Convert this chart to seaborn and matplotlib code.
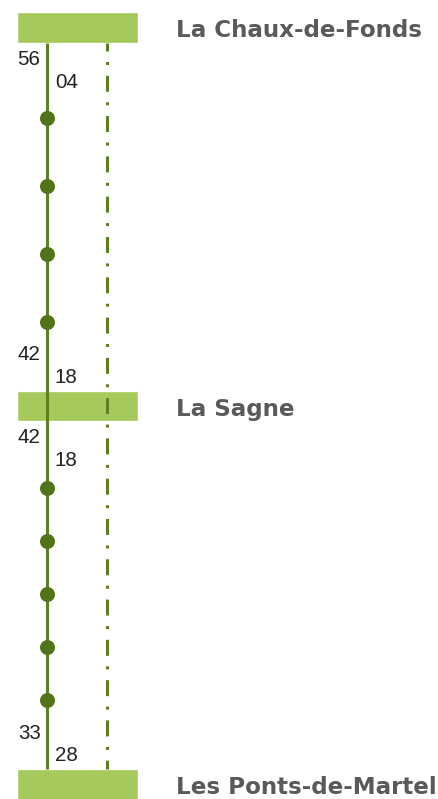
import pandas as pd
import matplotlib.pyplot as plt
import seaborn as sns

# stations from top to bottom (axis position = index)
stations = ["La Chaux-de-Fonds", "La Sagne", "Les Ponts-de-Martel"]

# minutes shown near each end of a segment
left_start = ["56", "42"]    # left column, just below upper station
left_end = ["42", "33"]      # left column, above lower station
right_start = ["04", "18"]   # right column, below upper station
right_end = ["18", "28"]     # right column, just above lower station

# intermediate stops, in station units along the line
stops = [0.239, 0.419, 0.598, 0.778,
         1.217, 1.357, 1.497, 1.637, 1.777]

BAR = "#a5c95a"
LINE = "#5b8020"
DOT = "#4f741a"
NAME = "#5a5a5a"

sns.set_theme(style="white")
plt.rcParams['font.family'] = ['Liberation Sans', 'DejaVu Sans']

fig = plt.figure(figsize=(4.39, 7.99), dpi=100)
ax = fig.add_axes([0, 0, 1, 1])
ax.set_xlim(0, 439)
ax.set_ylim(2.0383, -0.0727)
ax.axis('off')

x_solid, x_dash = 47, 107.5
bar_h = 0.08
pos = list(range(len(stations)))

ax.barh(pos, width=121, left=17, height=bar_h, color=BAR, zorder=1)

top, bottom = pos[0] + bar_h / 2, pos[-1] - bar_h / 2
ax.plot([x_solid, x_solid], [top, bottom], color=LINE, lw=2.2,
        solid_capstyle='butt', zorder=2)
ax.plot([x_dash, x_dash], [top, bottom], color=LINE, lw=2.16,
        linestyle=(2.67, (5.33, 3.5, 1, 3.6)), zorder=2)

stops_df = pd.DataFrame({"x": [x_solid] * len(stops), "y": stops})
sns.scatterplot(data=stops_df, x="x", y="y", ax=ax, s=117, color=DOT,
                linewidth=0, zorder=3, legend=False)

for p, name in zip(pos, stations):
    ax.text(176.5, p + 0.026, name, fontsize=16.6, fontweight='bold',
            color=NAME, family='DejaVu Sans', va='baseline', ha='left')

near, far, half = 0.08, 0.14, 0.019
for i in range(len(left_start)):
    a, b = pos[i], pos[i + 1]
    ax.text(40.5, a + near + half, left_start[i], fontsize=14.8,
            color="#222222", ha='right', va='baseline')
    ax.text(55, a + far + half, right_start[i], fontsize=14.8,
            color="#222222", ha='left', va='baseline')
    ax.text(40.5, b - far + half, left_end[i], fontsize=14.8,
            color="#222222", ha='right', va='baseline')
    ax.text(55, b - near + half, right_end[i], fontsize=14.8,
            color="#222222", ha='left', va='baseline')

fig.savefig("out.png", dpi=100)
